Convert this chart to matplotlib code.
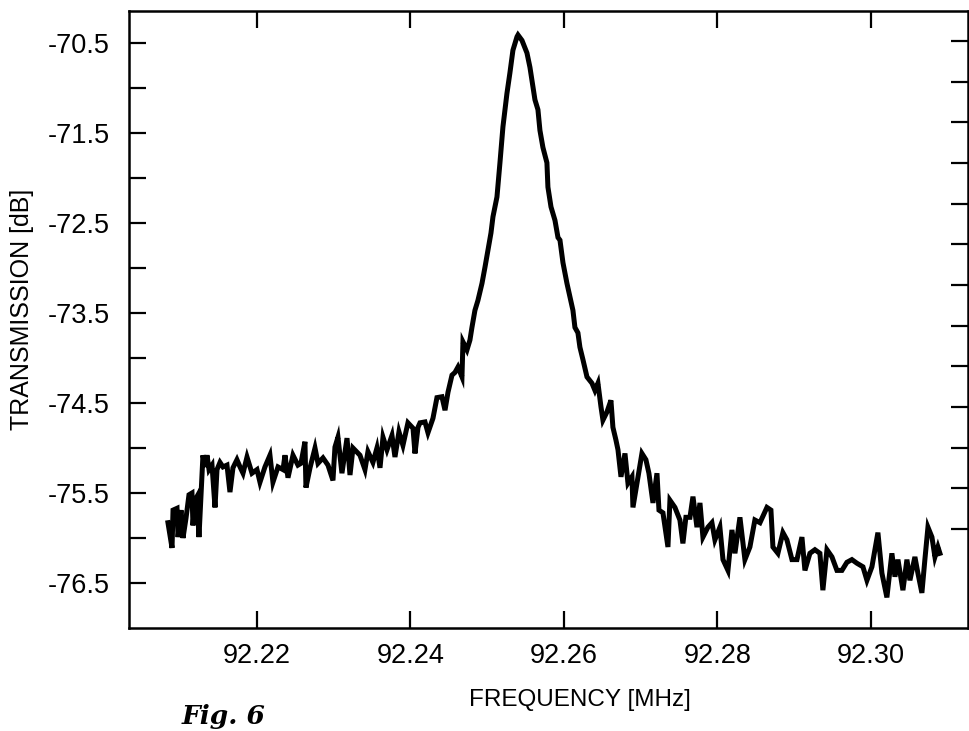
import numpy as np
import matplotlib
matplotlib.use("Agg")
import matplotlib.pyplot as plt
from matplotlib.ticker import FixedLocator, NullFormatter

# measured transmission trace (frequency in MHz, transmission in dB)
freq_mhz = [
    92.20840, 92.20893, 92.20906, 92.20958, 92.20971, 92.21010, 92.21036, 92.21075,
    92.21114, 92.21153, 92.21166, 92.21192, 92.21218, 92.21244, 92.21270, 92.21296,
    92.21322, 92.21349, 92.21375, 92.21414, 92.21453, 92.21479, 92.21518, 92.21557,
    92.21609, 92.21648, 92.21687, 92.21739, 92.21779, 92.21818, 92.21870, 92.21935,
    92.22000, 92.22039, 92.22104, 92.22169, 92.22208, 92.22274, 92.22339,
    92.22365, 92.22404, 92.22469, 92.22534, 92.22573, 92.22625, 92.22638, 92.22691,
    92.22756, 92.22795, 92.22860, 92.22925, 92.22990, 92.23016, 92.23055, 92.23107,
    92.23173, 92.23212, 92.23251, 92.23342, 92.23407, 92.23446, 92.23511, 92.23563,
    92.23603, 92.23642, 92.23694, 92.23759, 92.23798, 92.23850, 92.23902, 92.23967,
    92.24033, 92.24059, 92.24098,
    92.24124, 92.24189, 92.24228, 92.24293, 92.24345, 92.24410, 92.24450, 92.24489,
    92.24541, 92.24580, 92.24619, 92.24671, 92.24684, 92.24736, 92.24775, 92.24801,
    92.24840, 92.24879, 92.24932, 92.24971, 92.25010, 92.25049,
    92.25075, 92.25127, 92.25166, 92.25205, 92.25257, 92.25296, 92.25335, 92.25388,
    92.25401, 92.25453, 92.25518, 92.25557, 92.25596, 92.25622, 92.25661, 92.25687,
    92.25726, 92.25778, 92.25791, 92.25831, 92.25883, 92.25922,
    92.25948, 92.25987, 92.26039, 92.26078, 92.26117, 92.26143, 92.26182, 92.26208,
    92.26248, 92.26300, 92.26365, 92.26404, 92.26443, 92.26482, 92.26508, 92.26560,
    92.26612, 92.26638, 92.26677, 92.26704, 92.26743, 92.26795, 92.26834, 92.26886,
    92.26899, 92.26951, 92.27016, 92.27068, 92.27107, 92.27160, 92.27212, 92.27238,
    92.27290,
    92.27355, 92.27381, 92.27446, 92.27511, 92.27550, 92.27589, 92.27642, 92.27681,
    92.27733, 92.27772, 92.27811, 92.27876, 92.27928, 92.27967, 92.28032, 92.28072,
    92.28137, 92.28189, 92.28228, 92.28293, 92.28358, 92.28423, 92.28488, 92.28554,
    92.28645, 92.28697, 92.28723, 92.28788, 92.28853, 92.28905, 92.28971, 92.29036,
    92.29101, 92.29140, 92.29205, 92.29270, 92.29335, 92.29374, 92.29427, 92.29492,
    92.29557, 92.29622, 92.29687, 92.29752, 92.29817, 92.29896, 92.29948, 92.30013,
    92.30052, 92.30091, 92.30143, 92.30208, 92.30273, 92.30313, 92.30352, 92.30417,
    92.30469, 92.30508, 92.30573, 92.30612, 92.30664, 92.30703, 92.30743, 92.30795,
    92.30834, 92.30873, 92.30899,
]
transmission_db = [
    -75.83, -76.11, -75.69, -75.67, -75.99, -75.69, -76.00, -75.78,
    -75.52, -75.50, -75.86, -75.58, -75.54, -75.99, -75.54, -75.08,
    -75.21, -75.08, -75.24, -75.19, -75.66, -75.24, -75.16, -75.21,
    -75.19, -75.49, -75.22, -75.13, -75.21, -75.28, -75.10, -75.28,
    -75.24, -75.38, -75.21, -75.08, -75.38, -75.21, -75.24,
    -75.08, -75.33, -75.08, -75.19, -75.17, -74.93, -75.44, -75.22,
    -75.00, -75.17, -75.11, -75.19, -75.36, -74.99, -74.88, -75.28,
    -74.89, -75.30, -75.00, -75.08, -75.24, -75.04, -75.16, -75.00,
    -75.22, -74.88, -75.02, -74.86, -75.10, -74.82, -74.97, -74.72,
    -74.78, -75.06, -74.77,
    -74.72, -74.71, -74.83, -74.67, -74.44, -74.43, -74.58, -74.38,
    -74.19, -74.16, -74.10, -74.21, -73.82, -73.91, -73.80, -73.66,
    -73.47, -73.36, -73.17, -72.99, -72.80, -72.61,
    -72.43, -72.21, -71.83, -71.43, -71.06, -70.83, -70.58, -70.43,
    -70.41, -70.47, -70.61, -70.77, -70.99, -71.13, -71.24, -71.47,
    -71.66, -71.83, -72.10, -72.32, -72.47, -72.66,
    -72.69, -72.94, -73.17, -73.32, -73.47, -73.66, -73.72, -73.88,
    -74.02, -74.21, -74.28, -74.36, -74.28, -74.54, -74.69, -74.60,
    -74.47, -74.77, -74.91, -75.02, -75.32, -75.06, -75.39, -75.32,
    -75.66, -75.39, -75.06, -75.13, -75.28, -75.61, -75.28, -75.69,
    -75.72,
    -76.10, -75.58, -75.66, -75.80, -76.06, -75.77, -75.77, -75.54,
    -75.88, -75.61, -75.99, -75.88, -75.83, -76.02, -75.88, -76.24,
    -76.36, -75.91, -76.17, -75.77, -76.24, -76.10, -75.80, -75.83,
    -75.66, -75.69, -76.10, -76.17, -75.94, -76.02, -76.24, -76.24,
    -75.99, -76.36, -76.17, -76.13, -76.17, -76.58, -76.13, -76.21,
    -76.36, -76.36, -76.27, -76.24, -76.28, -76.32, -76.47, -76.32,
    -76.13, -75.94, -76.39, -76.66, -76.17, -76.43, -76.24, -76.58,
    -76.24, -76.47, -76.21, -76.39, -76.61, -76.24, -75.88, -75.99,
    -76.21, -76.10, -76.17,
]

x_ticks = [92.22, 92.24, 92.26, 92.28, 92.30]
x_tick_labels = ["92.22", "92.24", "92.26", "92.28", "92.30"]
y_ticks = [-70.5, -71.5, -72.5, -73.5, -74.5, -75.5, -76.5]
y_tick_labels = ["-70.5", "-71.5", "-72.5", "-73.5", "-74.5", "-75.5", "-76.5"]
y_minor_ticks = [-71, -72, -73, -74, -75, -76]

plt.rcParams['font.family'] = ['Liberation Sans', 'DejaVu Sans']

fig = plt.figure(figsize=(9.69, 7.31), dpi=100)
ax = fig.add_axes([0.1331, 0.1409, 0.8658, 0.8440])

ax.plot(freq_mhz, transmission_db, color='black', lw=3.6, solid_joinstyle='miter')

ax.set_xlim(92.20332, 92.31264)
ax.set_ylim(-77.0, -70.144)

ax.set_xticks(x_ticks)
ax.set_xticklabels(x_tick_labels)
ax.set_yticks(y_ticks)
ax.set_yticklabels(y_tick_labels)
ax.yaxis.set_minor_locator(FixedLocator(y_minor_ticks))
ax.yaxis.set_minor_formatter(NullFormatter())

ax.tick_params(axis='both', which='both', direction='in', length=12, width=1.6,
               labelsize=19.5, colors='black')
ax.tick_params(axis='x', top=True, pad=11)
ax.tick_params(axis='y', which='both', right=False, pad=14)

for sp in ax.spines.values():
    sp.set_linewidth(1.8)

# separate tick scale drawn on the right edge
ax_r = ax.twinx()
ax_r.set_ylim(-2.434, 12.738)
ax_r.set_yticks(range(13))
ax_r.yaxis.set_major_formatter(NullFormatter())
ax_r.tick_params(axis='y', direction='in', length=12, width=1.6)
for sp in ax_r.spines.values():
    sp.set_visible(False)

fig.text(22 / 969, 1 - 309 / 731, "TRANSMISSION [dB]", rotation=90,
         ha='center', va='center', fontsize=18)
fig.text(580 / 969, 1 - 700 / 731, "FREQUENCY [MHz]",
         ha='center', va='center', fontsize=17.5)
fig.text(182 / 969, 1 - 729 / 731, "Fig. 6", ha='left', va='bottom',
         fontsize=19, family='DejaVu Serif', style='italic', weight='bold')

fig.savefig("out.png", dpi=100)
